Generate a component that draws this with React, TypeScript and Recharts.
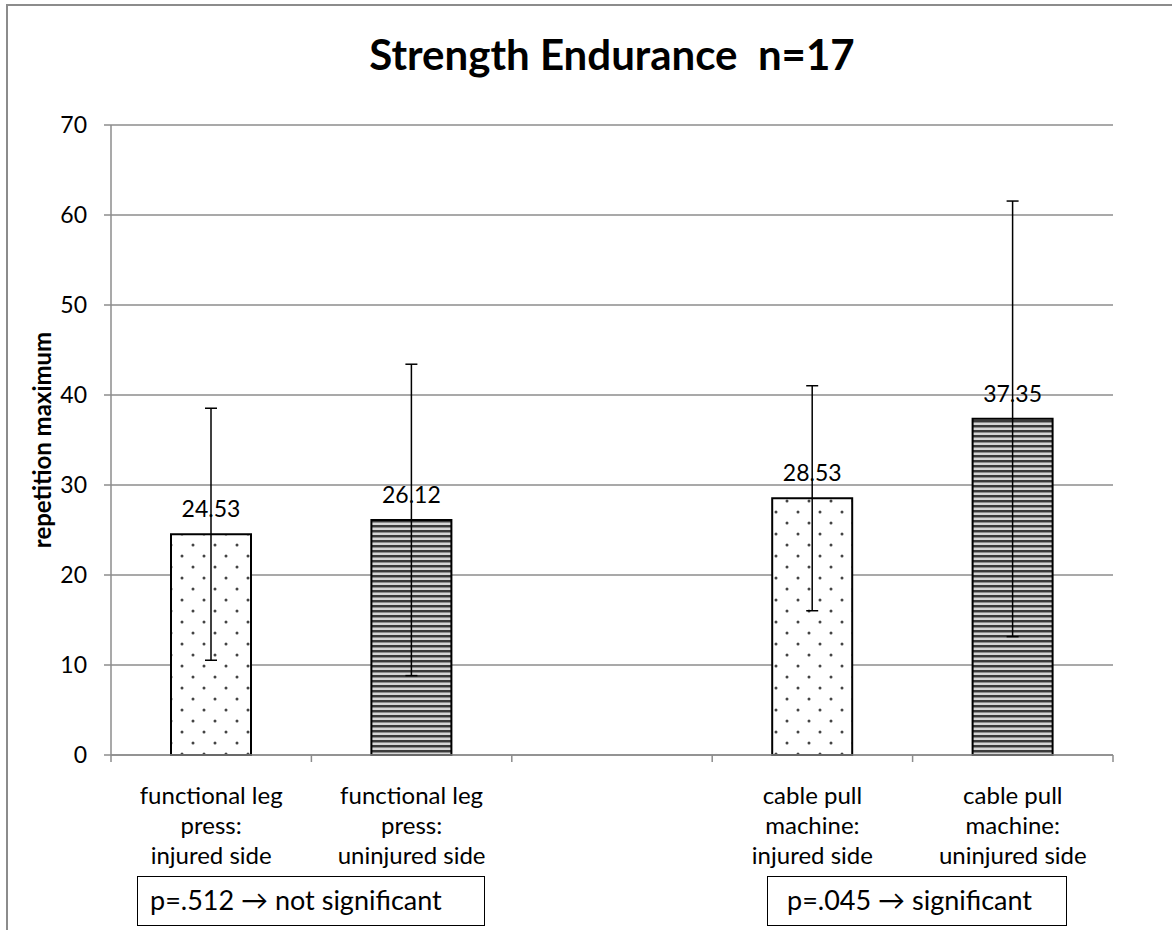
import React from 'react';
import { BarChart, Bar, XAxis, YAxis, CartesianGrid, ErrorBar, LabelList, Cell } from 'recharts';

// categories (one is an empty spacer slot, as in the original sheet)
const CATEGORY_LINES: string[][] = [
  ['functional leg', 'press:', 'injured side'],
  ['functional leg', 'press:', 'uninjured side'],
  [],
  ['cable pull', 'machine:', 'injured side'],
  ['cable pull', 'machine:', 'uninjured side'],
];
const MEANS: (number | null)[] = [24.53, 26.12, null, 28.53, 37.35];
const SDS: (number | null)[] = [14.0, 17.3, null, 12.5, 24.2];
const FILLS: (string | null)[] = ['dots', 'stripes', null, 'dots', 'stripes'];
const Y_TICKS = [0, 10, 20, 30, 40, 50, 60, 70];
const TITLE = 'Strength Endurance  n=17';
const Y_LABEL = 'repetition maximum';
const P_NOTES = ['p=.512 \u2192 not significant', 'p=.045 \u2192 significant'];

const W = 1172;
const H = 930;
const PLOT_LEFT = 111;
const PLOT_RIGHT = 1113;
const PLOT_TOP = 125;
const PLOT_BOTTOM = 755;
const HALF_BAND = (PLOT_RIGHT - PLOT_LEFT) / CATEGORY_LINES.length / 2;
const AXIS_GREY = '#8c8c8c';
const FONT = 'Lato, "Open Sans", sans-serif';

const data = CATEGORY_LINES.map((_, i) => ({
  key: `c${i}`,
  mean: MEANS[i],
  sd: SDS[i],
}));

const CategoryTick = (props: any) => {
  const { x, payload } = props;
  const i = Number(String(payload.value).slice(1));
  const lines = CATEGORY_LINES[i] || [];
  const last = i === CATEGORY_LINES.length - 1;
  return (
    <g>
      <line x1={x - HALF_BAND} x2={x - HALF_BAND} y1={PLOT_BOTTOM} y2={PLOT_BOTTOM + 7} stroke={AXIS_GREY} strokeWidth={1.5} />
      {last && (
        <line x1={x + HALF_BAND} x2={x + HALF_BAND} y1={PLOT_BOTTOM} y2={PLOT_BOTTOM + 7} stroke={AXIS_GREY} strokeWidth={1.5} />
      )}
      {lines.map((t, k) => (
        <text key={k} x={x} y={PLOT_BOTTOM + 49 + k * 30} textAnchor="middle" fontSize={24} fill="#000">
          {t}
        </text>
      ))}
    </g>
  );
};

export default function App() {
  return (
    <div style={{ position: 'absolute', left: 0, top: 0, width: W, height: H, overflow: 'hidden', background: '#fff', fontFamily: FONT }}>
      <div style={{ position: 'absolute', left: 6, top: 4, width: W + 40, height: H + 40, border: `2px solid ${AXIS_GREY}` }} />
      <div style={{ position: 'absolute', left: 0, top: 0 }}>
        <BarChart
          width={W}
          height={H}
          data={data}
          margin={{ top: PLOT_TOP, right: W - PLOT_RIGHT, left: PLOT_LEFT - 60, bottom: H - PLOT_BOTTOM - 120 }}
          barSize={80}
        >
          <defs>
            <pattern id="dots" width={22} height={22} patternUnits="userSpaceOnUse">
              <rect width={22} height={22} fill="#fff" />
              <circle cx={6} cy={6} r={1.5} fill="#444" />
              <circle cx={17} cy={17} r={1.5} fill="#444" />
            </pattern>
            <pattern id="stripes" width={5} height={5} patternUnits="userSpaceOnUse">
              <rect width={5} height={5} fill="#d6d6d6" />
              <rect y={0} width={5} height={2} fill="#3a3a3a" />
              <rect y={2} width={5} height={1} fill="#8c8c8c" />
            </pattern>
          </defs>
          <CartesianGrid vertical={false} stroke={AXIS_GREY} strokeWidth={1.5} />
          <XAxis
            dataKey="key"
            height={120}
            axisLine={{ stroke: AXIS_GREY, strokeWidth: 1.5 }}
            tickLine={false}
            tick={<CategoryTick />}
            interval={0}
          />
          <YAxis
            width={60}
            domain={[0, 70]}
            ticks={Y_TICKS}
            axisLine={{ stroke: AXIS_GREY, strokeWidth: 1.5 }}
            tickLine={{ stroke: AXIS_GREY, strokeWidth: 1.5 }}
            tickSize={7}
            tickMargin={17}
            tick={{ fill: '#000', fontSize: 23 }}
            label={{
              value: Y_LABEL,
              angle: -90,
              position: 'insideLeft',
              dx: -14,
              dy: 0,
              style: { textAnchor: 'middle', fontWeight: 700, fontSize: 24, fill: '#000' },
            }}
          />
          <Bar dataKey="mean" stroke="#000" strokeWidth={2} isAnimationActive={false}>
            {data.map((d, i) => (
              <Cell key={d.key} fill={FILLS[i] ? `url(#${FILLS[i]})` : 'none'} />
            ))}
            <LabelList
              dataKey="mean"
              position="top"
              offset={17}
              fill="#000"
              fontSize={23}
              formatter={(v: any) => (v == null ? '' : Number(v).toFixed(2))}
            />
            <ErrorBar dataKey="sd" width={6} stroke="#000" strokeWidth={1.5} direction="y" />
          </Bar>
        </BarChart>
      </div>
      <div
        style={{
          position: 'absolute',
          left: 0,
          width: (PLOT_LEFT + PLOT_RIGHT),
          top: 33,
          textAlign: 'center',
          fontSize: 42,
          lineHeight: '42px',
          fontWeight: 700,
          whiteSpace: 'pre',
          color: '#000',
        }}
      >
        {TITLE}
      </div>
      <div style={{ position: 'absolute', left: 137, top: 876, width: 348, height: 50, border: '1.5px solid #000', boxSizing: 'border-box', fontSize: 27, lineHeight: '46px', paddingLeft: 12, whiteSpace: 'pre', background: '#fff' }}>
        {P_NOTES[0]}
      </div>
      <div style={{ position: 'absolute', left: 767, top: 876, width: 300, height: 50, border: '1.5px solid #000', boxSizing: 'border-box', fontSize: 27, lineHeight: '46px', paddingLeft: 19, whiteSpace: 'pre', background: '#fff' }}>
        {P_NOTES[1]}
      </div>
    </div>
  );
}
